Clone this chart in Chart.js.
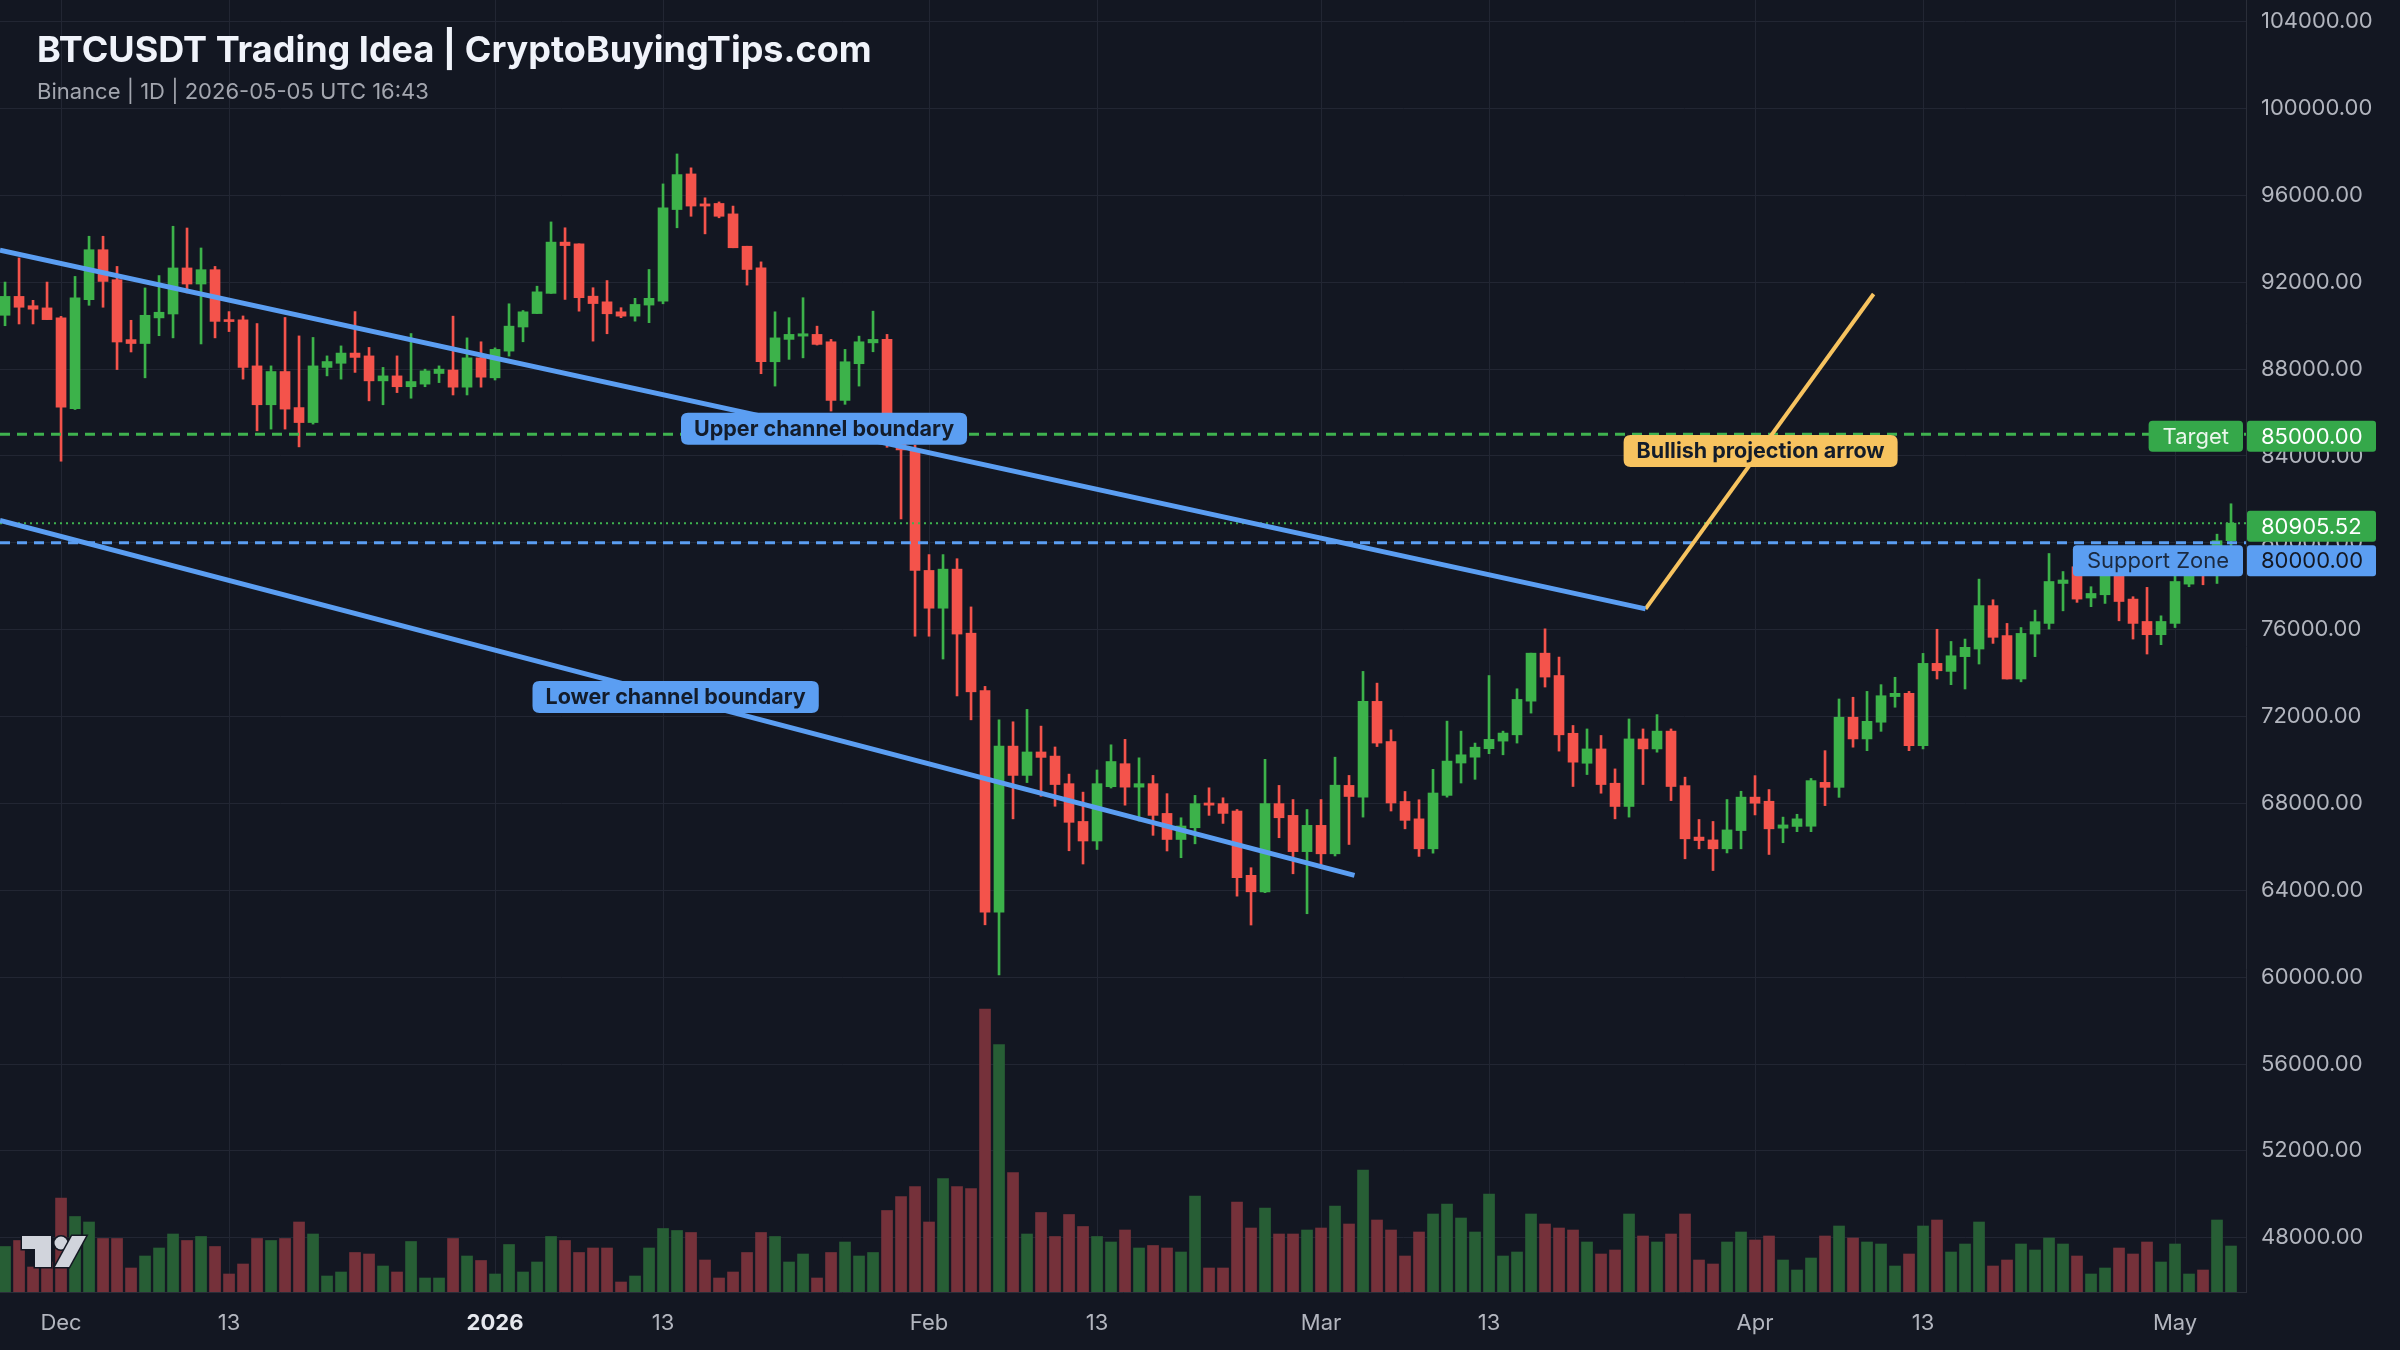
<!DOCTYPE html>
<html lang="en">
<head>
    <meta charset="UTF-8">
    <title>BTCUSDT Trading Idea</title>
    <script src="https://cdn.jsdelivr.net/npm/chart.js"></script>
    <style>
        html, body { margin: 0; padding: 0; background: #131722; }
        #wrap { position: relative; width: 2400px; height: 1350px; }
        #title {
            position: absolute; left: 37px; top: 31px;
            font: bold 36px/36px Inter, sans-serif; color: #f0f3fa;
        }
        #subtitle {
            position: absolute; left: 37px; top: 80px;
            font: 22px/22px Inter, sans-serif; color: #a3a6af;
        }
    </style>
</head>
<body>
<div id="wrap">
    <canvas id="chart" width="2400" height="1350"></canvas>
    <div id="title">BTCUSDT Trading Idea | CryptoBuyingTips.com</div>
    <div id="subtitle">Binance | 1D | 2026-05-05 UTC 16:43</div>
</div>
<script>
    // daily candles, day 0 = 2025-12-01, first candle is Nov 27
    const firstDay = -4;

    const open = [
        90480, 91350, 90920, 90820, 90360, 86180, 91200, 93500, 92120, 89360,
        89180, 90360, 90540, 92660, 91920, 92580, 90280, 90270, 88150, 86360,
        87890, 86230, 85540, 88080, 88270, 88740, 88610, 87460, 87690, 87190,
        87310, 87800, 87960, 87170, 88520, 87600, 88830, 89940, 90560, 91490,
        93850, 93770, 91360, 91100, 90640, 90440, 90950, 91130, 95350, 96990,
        95610, 95630, 95150, 93660, 92670, 88340, 89370, 89520, 89600, 89260,
        86560, 88250, 89210, 89370, 84700, 84280, 78730, 76990, 78790, 75840,
        73200, 62990, 70640, 69290, 70370, 70180, 68910, 67170, 66270, 68770,
        69830, 68750, 68910, 67540, 66340, 66880, 68020, 67990, 67650, 64690,
        63930, 67990, 67450, 65780, 66990, 65680, 68830, 68290, 72700, 70850,
        68090, 67290, 65910, 68370, 69860, 70130, 70520, 70870, 71160, 72710,
        74920, 73890, 71230, 69850, 70510, 68930, 67860, 70970, 70510, 71330,
        68820, 66450, 66320, 65910, 66750, 68290, 68100, 66860, 66940, 66950,
        68970, 68740, 71970, 70970, 71740, 72920, 73070, 70660, 74450, 74080,
        74760, 75110, 77110, 75730, 73730, 75800, 76290, 78130, 78900, 77460,
        77610, 78850, 77410, 76380, 75770, 76290, 78100, 79100, 78800, 80100
    ];
    const high = [
        92010, 93120, 91170, 92010, 90430, 92270, 94120, 94120, 92730, 90250,
        91740, 92310, 94580, 94500, 93580, 92730, 90650, 90450, 90100, 88150,
        90380, 89530, 89460, 88610, 89070, 90650, 89000, 88080, 88610, 89640,
        88000, 88150, 90440, 89440, 89260, 88980, 91010, 90700, 91820, 94780,
        94510, 93770, 91750, 92080, 90830, 91260, 92590, 96530, 97910, 97270,
        95890, 95700, 95510, 93660, 92940, 90640, 90370, 91290, 89980, 89370,
        88910, 89520, 90670, 89600, 85300, 84500, 79460, 79460, 79270, 77050,
        73390, 71850, 71760, 72330, 71560, 70600, 69350, 68520, 69540, 70700,
        70950, 70100, 69290, 68450, 67340, 68370, 68720, 68260, 67720, 65040,
        70030, 68830, 68180, 67720, 68180, 70130, 69290, 74080, 73540, 71390,
        68550, 68170, 69570, 71790, 71330, 70780, 73890, 71330, 73280, 74920,
        76040, 74740, 71590, 71430, 71130, 69590, 71890, 71430, 72090, 71430,
        69210, 67260, 67170, 68180, 68560, 69280, 68640, 67370, 67500, 69150,
        70430, 72810, 72890, 73160, 73470, 73810, 73160, 74910, 76020, 75460,
        75570, 78330, 77380, 76290, 76100, 76900, 79510, 78680, 79600, 77980,
        79800, 79700, 77520, 77950, 76640, 78480, 79500, 79700, 80400, 81800
    ];
    const low = [
        90000, 90080, 90080, 90280, 83760, 86140, 90940, 90850, 87980, 88790,
        87600, 89540, 89440, 91510, 89160, 89440, 89730, 87540, 85160, 85240,
        85240, 84420, 85470, 87690, 87540, 87850, 86540, 86360, 86920, 86660,
        87190, 87380, 86810, 86810, 87170, 87500, 88600, 89260, 90560, 91490,
        91210, 90670, 89290, 89630, 90370, 90210, 90140, 91010, 94510, 95040,
        94230, 94970, 93590, 91870, 87790, 87220, 88450, 88520, 89110, 86070,
        86380, 87220, 88800, 84400, 81100, 75700, 75700, 74650, 72950, 71850,
        62410, 60100, 67290, 68960, 68330, 67870, 65820, 65210, 65880, 68710,
        67920, 67190, 66530, 65810, 65500, 66140, 67450, 67080, 63730, 62400,
        63890, 66420, 64760, 62920, 65010, 65580, 66110, 67370, 70620, 67650,
        66830, 65560, 65710, 68290, 68940, 69110, 70290, 70240, 70780, 72160,
        73360, 70410, 68780, 69330, 68470, 67290, 67370, 68870, 70360, 68130,
        65450, 65910, 64910, 65720, 65910, 67470, 65650, 66190, 66700, 66700,
        67900, 68280, 70590, 70430, 71320, 72430, 70430, 70510, 73730, 73470,
        73270, 74420, 75370, 73730, 73600, 74760, 76030, 76870, 77260, 77060,
        77210, 76410, 75570, 74880, 75310, 76100, 77980, 78070, 78130, 79700
    ];
    const close = [
        91350, 90850, 90760, 90280, 86250, 91280, 93500, 92040, 89250, 89180,
        90480, 90620, 92660, 91920, 92580, 90200, 90190, 88080, 86360, 87890,
        86160, 85540, 88150, 88350, 88740, 88540, 87460, 87690, 87190, 87430,
        87920, 88000, 87170, 88520, 87630, 88910, 89980, 90640, 91560, 93850,
        93690, 91290, 91020, 90550, 90440, 90980, 91260, 95430, 96960, 95510,
        95510, 95040, 93590, 92590, 88340, 89440, 89600, 89630, 89140, 86560,
        88340, 89260, 89370, 84700, 84280, 78730, 76990, 78790, 75800, 73140,
        62990, 70640, 69290, 70370, 70120, 68870, 67130, 66270, 68910, 69930,
        68750, 68910, 67450, 66340, 66960, 67990, 67920, 67540, 64580, 63930,
        67990, 67340, 65780, 66990, 65680, 68840, 68320, 72700, 70780, 68020,
        67220, 65910, 68480, 69950, 70240, 70590, 70950, 71240, 72790, 74920,
        73820, 71160, 69900, 70510, 68870, 67860, 70970, 70510, 71330, 68780,
        66370, 66290, 65910, 66780, 68290, 68010, 66830, 67010, 67290, 69050,
        68740, 71970, 70970, 71780, 72960, 73070, 70660, 74450, 74110, 74800,
        75190, 77110, 75650, 73730, 75830, 76370, 78220, 78290, 77410, 77670,
        78900, 77300, 76290, 75770, 76380, 78220, 79000, 78800, 80100, 80905.52
    ];
    // volume, thousand BTC
    const volume = [
        9.1, 10.3, 5.0, 6.0, 18.8, 15.1, 14.0, 10.7, 10.7, 4.8,
        7.2, 8.8, 11.6, 10.3, 11.1, 9.1, 3.6, 5.6, 10.7, 10.3,
        10.7, 14.0, 11.6, 3.2, 4.0, 7.9, 7.6, 5.2, 4.0, 10.1,
        2.8, 2.8, 10.7, 7.2, 6.3, 3.6, 9.5, 4.0, 6.0, 11.1,
        10.3, 7.9, 8.8, 8.8, 2.0, 3.2, 8.8, 12.7, 12.3, 11.9,
        6.4, 2.8, 4.0, 7.9, 11.9, 11.1, 6.0, 7.6, 2.8, 7.9,
        10.0, 7.2, 7.9, 16.3, 19.1, 21.1, 14.0, 22.7, 21.1, 20.7,
        56.6, 49.5, 23.9, 11.6, 15.9, 11.1, 15.5, 13.1, 11.1, 10.0,
        12.4, 8.8, 9.3, 8.8, 8.0, 19.2, 4.8, 4.8, 18.0, 12.8,
        16.8, 11.6, 11.6, 12.4, 12.8, 17.2, 13.6, 24.4, 14.4, 12.4,
        7.2, 12.0, 15.6, 17.6, 14.8, 12.0, 19.6, 7.2, 8.0, 15.6,
        13.6, 12.8, 12.4, 10.0, 7.6, 8.4, 15.6, 11.2, 10.0, 11.6,
        15.6, 6.4, 5.6, 10.0, 12.0, 10.4, 11.2, 6.4, 4.4, 6.8,
        11.2, 13.2, 10.8, 10.0, 9.6, 5.2, 7.6, 13.2, 14.4, 8.0,
        9.6, 14.0, 5.2, 6.4, 9.6, 8.4, 10.8, 9.6, 7.2, 3.6,
        4.8, 8.8, 7.6, 10.0, 6.0, 9.6, 3.6, 4.4, 14.4, 9.2
    ];

    // drawings: [day, price] end points
    const upperTrend = [[-4.36, 93480], [113.18, 76960]];
    const lowerTrend = [[-4.36, 81030], [92.39, 64690]];
    const projection = [[113.18, 76960], [129.47, 91460]];
    const targetPrice = 85000;
    const lastPrice = 80905.52;
    const supportPrice = 80000;

    const priceTicks = [48000, 52000, 56000, 60000, 64000, 68000, 72000, 76000,
        80000, 84000, 88000, 92000, 96000, 100000, 104000];
    const tickDays = [0, 12, 31, 43, 62, 74, 90, 102, 121, 133, 151];
    const tickLabels = ['Dec', '13', '2026', '13', 'Feb', '13', 'Mar', '13', 'Apr', '13', 'May'];

    const xMin = -4.36, xMax = 156.07;
    const yMin = 45500, yMax = 105000;
    const volMax = 258.4;

    const UP = '#3cb24a', DOWN = '#f4534b';
    const VOL_UP = '#275e35', VOL_DOWN = '#75313a';
    const BLUE = '#5b9ef2', YELLOW = '#f7c35f', GREEN = '#3fb24f';
    const GRID = '#222633';
    const FONT = 'Inter, sans-serif';

    const isUp = open.map((o, i) => close[i] >= o);
    const dayOf = i => firstDay + i;

    const notes = [
        { text: 'Upper channel boundary', day: 54.5, price: 85260, bg: BLUE },
        { text: 'Lower channel boundary', day: 43.9, price: 72900, bg: BLUE },
        { text: 'Bullish projection arrow', day: 121.4, price: 84230, bg: YELLOW }
    ];

    function box(ctx, x, y, w, h, r, fill) {
        ctx.fillStyle = fill;
        ctx.beginPath();
        ctx.moveTo(x + r, y);
        ctx.lineTo(x + w - r, y);
        ctx.quadraticCurveTo(x + w, y, x + w, y + r);
        ctx.lineTo(x + w, y + h - r);
        ctx.quadraticCurveTo(x + w, y + h, x + w - r, y + h);
        ctx.lineTo(x + r, y + h);
        ctx.quadraticCurveTo(x, y + h, x, y + h - r);
        ctx.lineTo(x, y + r);
        ctx.quadraticCurveTo(x, y, x + r, y);
        ctx.closePath();
        ctx.fill();
    }

    const overlay = {
        id: 'overlay',
        afterDatasetsDraw(chart) {
            const { ctx, chartArea, scales: { x, y } } = chart;
            ctx.save();

            // notes on the drawings
            ctx.font = 'bold 21.5px ' + FONT;
            ctx.textAlign = 'center';
            ctx.textBaseline = 'middle';
            notes.forEach(n => {
                const cx = x.getPixelForValue(n.day), cy = y.getPixelForValue(n.price);
                const w = ctx.measureText(n.text).width + 26, h = 32;
                box(ctx, cx - w / 2, cy - h / 2, w, h, 7, n.bg);
                ctx.fillStyle = '#131c2b';
                ctx.fillText(n.text, cx, cy + 1);
            });

            // side labels left of the price scale
            const side = (text, price, dy, bg, fg) => {
                ctx.font = '22px ' + FONT;
                const w = ctx.measureText(text).width + 28, h = 31;
                const cy = y.getPixelForValue(price) + dy;
                box(ctx, chartArea.right - 3 - w, cy - h / 2, w, h, 4, bg);
                ctx.fillStyle = fg;
                ctx.textAlign = 'center';
                ctx.fillText(text, chartArea.right - 3 - w / 2, cy + 1);
            };
            side('Target', targetPrice, 2, '#35a84a', '#eaf6ec');
            side('Support Zone', supportPrice, 18, BLUE, '#1b2a41');

            // price tags on the scale
            const tag = (price, dy, bg, fg) => {
                const cy = y.getPixelForValue(price) + dy;
                box(ctx, chartArea.right + 1, cy - 15.5, 129, 31, 3, bg);
                ctx.font = '22px ' + FONT;
                ctx.fillStyle = fg;
                ctx.textAlign = 'left';
                ctx.fillText(price.toFixed(2), chartArea.right + 15, cy + 1);
            };
            tag(targetPrice, 2, '#35a84a', '#ffffff');
            tag(lastPrice, 3, '#35a84a', '#ffffff');
            tag(supportPrice, 18, BLUE, '#131722');

            // TradingView logo
            const lx = chartArea.left + 22, ly = chartArea.bottom - 56;
            ctx.fillStyle = '#d1d4dc';
            ctx.strokeStyle = '#131722';
            ctx.lineWidth = 3;
            ctx.beginPath();
            ctx.moveTo(lx, ly);
            ctx.lineTo(lx + 29, ly);
            ctx.lineTo(lx + 29, ly + 31);
            ctx.lineTo(lx + 13, ly + 31);
            ctx.lineTo(lx + 13, ly + 13);
            ctx.lineTo(lx, ly + 13);
            ctx.closePath();
            ctx.stroke(); ctx.fill();
            ctx.beginPath();
            ctx.arc(lx + 39, ly + 7, 6.5, 0, Math.PI * 2);
            ctx.stroke(); ctx.fill();
            ctx.beginPath();
            ctx.moveTo(lx + 50, ly);
            ctx.lineTo(lx + 64, ly);
            ctx.lineTo(lx + 47, ly + 31);
            ctx.lineTo(lx + 33, ly + 31);
            ctx.closePath();
            ctx.stroke(); ctx.fill();

            ctx.restore();
        }
    };

    const hLine = (price, color, width, dash) => ({
        type: 'line',
        data: [{ x: xMin, y: price }, { x: xMax, y: price }],
        borderColor: color, borderWidth: width, borderDash: dash,
        pointRadius: 0, order: 3
    });
    const trend = (pts, color, width) => ({
        type: 'line',
        data: pts.map(p => ({ x: p[0], y: p[1] })),
        borderColor: color, borderWidth: width,
        pointRadius: 0, order: 1
    });

    new Chart(document.getElementById('chart'), {
        type: 'bar',
        data: {
            datasets: [
                {
                    label: 'Volume',
                    yAxisID: 'yv',
                    data: volume.map((v, i) => ({ x: dayOf(i), y: v })),
                    backgroundColor: isUp.map(u => u ? VOL_UP : VOL_DOWN),
                    barThickness: 11, grouped: false, order: 10
                },
                {
                    label: 'Wicks',
                    data: high.map((h, i) => ({ x: dayOf(i), y: [low[i], h] })),
                    backgroundColor: isUp.map(u => u ? UP : DOWN),
                    barThickness: 2, grouped: false, order: 6
                },
                {
                    label: 'Bodies',
                    data: open.map((o, i) => ({ x: dayOf(i), y: [o, close[i]] })),
                    backgroundColor: isUp.map(u => u ? UP : DOWN),
                    barThickness: 10, minBarLength: 2, grouped: false, order: 5
                },
                hLine(targetPrice, GREEN, 3, [10, 7]),
                hLine(lastPrice, GREEN, 2, [2, 4]),
                hLine(supportPrice, BLUE, 3, [10, 7]),
                trend(upperTrend, BLUE, 5),
                trend(lowerTrend, BLUE, 5),
                trend(projection, YELLOW, 4)
            ]
        },
        options: {
            responsive: false,
            animation: false,
            devicePixelRatio: 1,
            layout: { padding: 0 },
            plugins: {
                legend: { display: false },
                tooltip: { enabled: false }
            },
            scales: {
                x: {
                    type: 'linear', min: xMin, max: xMax, offset: false,
                    afterBuildTicks: s => { s.ticks = tickDays.map(v => ({ value: v })); },
                    afterFit: s => { s.height = 58; s.paddingLeft = 0; s.paddingRight = 0; },
                    grid: { color: GRID, drawTicks: false, offset: false },
                    border: { color: '#2a2e39' },
                    ticks: {
                        autoSkip: false, maxRotation: 0, padding: 18,
                        color: ctx => ctx.index === 2 ? '#e6e8ee' : '#b2b5be',
                        font: ctx => ({ family: FONT, size: 22, weight: ctx.index === 2 ? 'bold' : 'normal' }),
                        callback: (v, i) => tickLabels[i]
                    }
                },
                y: {
                    position: 'right', min: yMin, max: yMax,
                    afterBuildTicks: s => { s.ticks = priceTicks.map(v => ({ value: v })); },
                    afterFit: s => { s.width = 154; s.paddingTop = 0; s.paddingBottom = 0; },
                    grid: { color: GRID, drawTicks: false },
                    border: { color: '#2a2e39' },
                    ticks: {
                        color: '#b2b5be', padding: 15,
                        font: { family: FONT, size: 22 },
                        callback: v => Number(v).toFixed(2)
                    }
                },
                yv: {
                    display: false, min: 0, max: volMax
                }
            }
        },
        plugins: [overlay]
    });
</script>
</body>
</html>
